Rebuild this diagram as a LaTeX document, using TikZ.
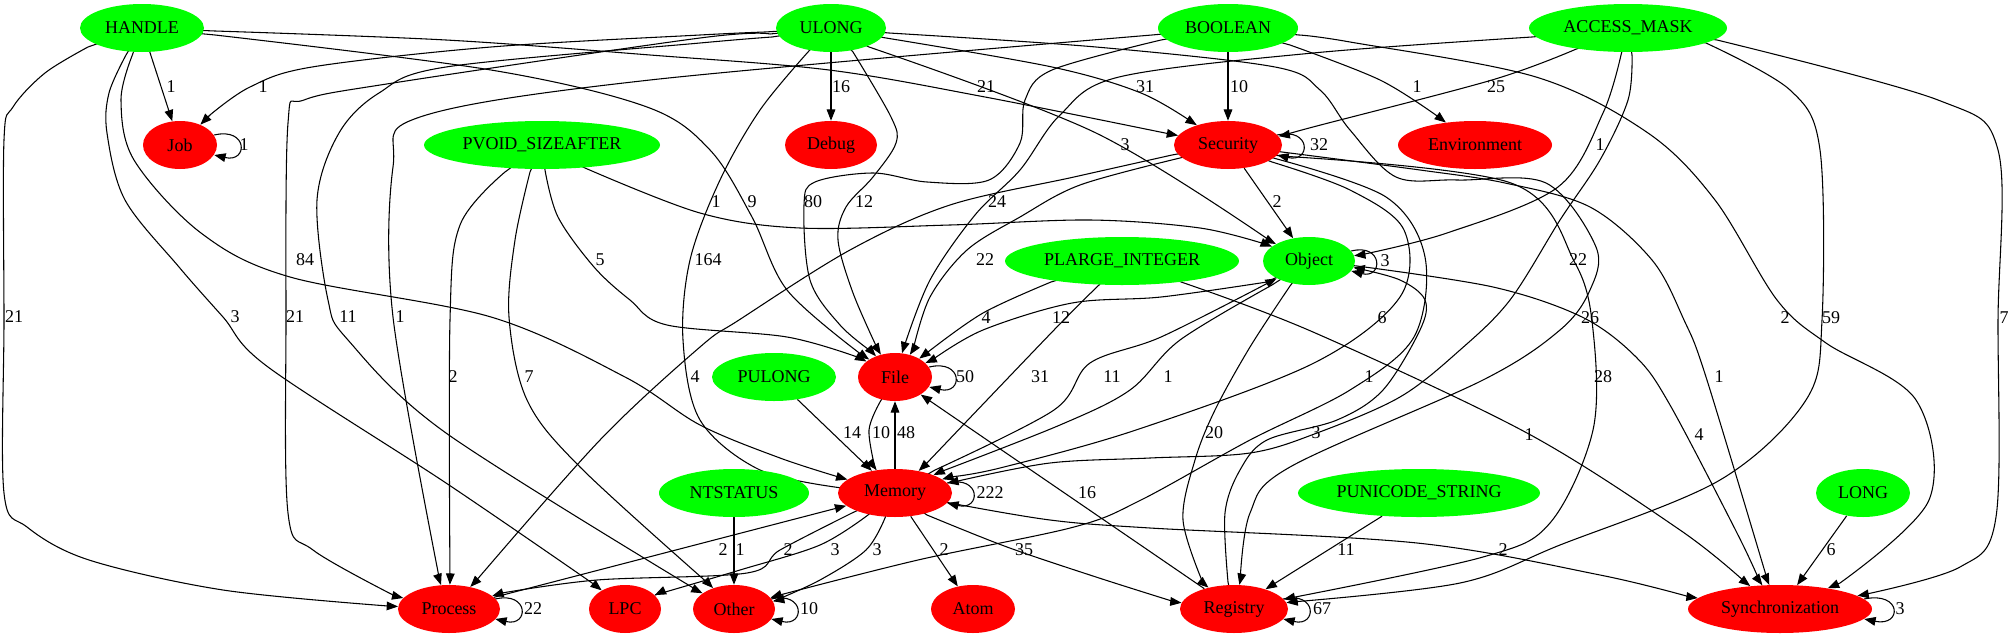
\documentclass[tikz,border=0pt]{standalone}
\usepackage{fontspec}
\setmainfont{Liberation Serif}
\usetikzlibrary{arrows.meta,shapes.geometric,calc}
\pgfdeclarelayer{bg}
\pgfsetlayers{bg,main}
\definecolor{gvgreen}{RGB}{0,255,0}
\definecolor{gvred}{RGB}{255,0,0}
\begin{document}
\begin{tikzpicture}[x=0.75pt,y=-0.75pt,
  gv/.style={ellipse, draw=none, inner sep=0pt, minimum height=36pt, font=\fontsize{13.5}{16}\selectfont},
  gn/.style={gv, fill=gvgreen},
  rn/.style={gv, fill=gvred},
  wd/.style={minimum width=#1*0.75pt},
  e/.style={draw=black, line width=0.8pt, -{Triangle[length=8.5pt,width=6.5pt]}},
  lb/.style={font=\fontsize{13.5}{16}\selectfont, inner sep=0pt},
  sm/.style={smooth, tension=0.55}]
\useasboundingbox (0,0) rectangle (2013,639);
% nodes
\node[gn,wd=124] (HANDLE) at (142,28) {HANDLE};
\node[gn,wd=110] (ULONG) at (831,28) {ULONG};
\node[gn,wd=140] (BOOLEAN) at (1228,28) {BOOLEAN};
\node[gn,wd=198] (ACCESS) at (1628,28) {ACCESS\_MASK};
\node[rn,wd=74] (Job) at (180,145) {Job};
\node[gn,wd=236] (PVOID) at (542,145) {PVOID\_SIZEAFTER};
\node[rn,wd=92] (Debug) at (831,145) {Debug};
\node[rn,wd=108] (Security) at (1228,145) {Security};
\node[rn,wd=154] (Environment) at (1475,145) {Environment};
\node[gn,wd=234] (PLARGE) at (1122,261) {PLARGE\_INTEGER};
\node[gn,wd=92] (Object) at (1309,261) {Object};
\node[gn,wd=124] (PULONG) at (774,377) {PULONG};
\node[rn,wd=74] (File) at (895,377) {File};
\node[gn,wd=150] (NTSTATUS) at (734,493) {NTSTATUS};
\node[rn,wd=114] (Memory) at (895,493) {Memory};
\node[gn,wd=242] (PUNICODE) at (1419,493) {PUNICODE\_STRING};
\node[gn,wd=94] (LONG) at (1863,493) {LONG};
\node[rn,wd=102] (Process) at (449,609) {Process};
\node[rn,wd=72] (LPC) at (625,609) {LPC};
\node[rn,wd=82] (Other) at (734,609) {Other};
\node[rn,wd=84] (Atom) at (973,609) {Atom};
\node[rn,wd=108] (Registry) at (1234,609) {Registry};
\node[rn,wd=184] (Sync) at (1780,609) {Synchronization};

\begin{pgfonlayer}{bg}
% HANDLE
\draw[e] (HANDLE) -- (Job);
\draw[e] (HANDLE) -- plot[sm] coordinates {(215,31) (446,40) (650,55) (829,70) (985,97) (1165,133)} -- (Security);
\draw[e] (HANDLE) -- plot[sm] coordinates {(215,35) (491,70) (647,107) (710,150) (752,217) (787,290) (858,352)} -- (File);
\draw[e] (HANDLE) -- plot[sm] coordinates {(132,56) (121,100) (134,160) (201,233) (290,277) (491,317) (625,377) (700,425) (780,458) (842,478)} -- (Memory);
\draw[e] (HANDLE) -- plot[sm] coordinates {(88,47) (45,73) (13,107) (4,140) (4,320) (4,493) (27,527) (89,560) (223,590) (388,606)} -- (Process);
\draw[e] (HANDLE) -- plot[sm] coordinates {(126,55) (109,93) (107,133) (125,200) (179,267) (223,317) (268,367) (446,483) (595,585)} -- (LPC);
% ULONG
\draw[e] (ULONG) -- plot[sm] coordinates {(765,32) (700,35) (491,47) (312,67) (250,87) (210,115)} -- (Job);
\draw[e] (ULONG) -- (Debug);
\draw[e] (ULONG) -- plot[sm] coordinates {(886,38) (1052,67) (1141,93) (1195,124)} -- (Security);
\draw[e] (ULONG) -- plot[sm] coordinates {(869,47) (1096,133) (1272,242)} -- (Object);
\draw[e] (ULONG) -- plot[sm] coordinates {(853,52) (891,117) (896,143) (873,177) (846,207) (838,240) (853,293) (878,350)} -- (File);
\draw[e] (ULONG) -- plot[sm] coordinates {(808,52) (760,110) (720,180) (690,260) (683,340) (700,420) (760,470) (842,488)} -- (Memory);
\draw[e] (ULONG) -- plot[sm] coordinates {(770,34) (700,38) (393,83) (304,100) (288,123) (286,320) (288,513) (313,550) (395,596)} -- (Process);
\draw[e] (ULONG) -- plot[sm] coordinates {(772,37) (700,43) (446,67) (379,93) (339,133) (317,200) (328,300) (348,340) (446,433) (700,592)} -- (Other);
\draw[e] (ULONG) -- plot[sm] coordinates {(889,33) (1096,47) (1275,67) (1320,90) (1350,130) (1396,177) (1457,180) (1546,183) (1596,247) (1590,290) (1560,330) (1483,380) (1290,467) (1250,513) (1240,582)} -- (Registry);
% BOOLEAN
\draw[e] (BOOLEAN) -- (Security);
\draw[e] (BOOLEAN) -- plot[sm] coordinates {(1290,45) (1380,80) (1440,118)} -- (Environment);
\draw[e] (BOOLEAN) -- plot[sm] coordinates {(1161,40) (1052,70) (1025,100) (1020,143) (989,180) (927,182) (873,173) (815,182) (804,205) (810,280) (840,325) (872,352)} -- (File);
\draw[e] (BOOLEAN) -- plot[sm] coordinates {(1152,35) (650,80) (420,117) (393,167) (393,317) (440,582)} -- (Process);
\draw[e] (BOOLEAN) -- plot[sm] coordinates {(1299,35) (1350,42) (1536,77) (1648,133) (1715,200) (1777,300) (1826,343) (1916,400) (1929,500) (1840,583)} -- (Sync);
% ACCESS_MASK
\draw[e] (ACCESS) -- plot[sm] coordinates {(1574,50) (1492,80) (1313,127) (1285,135)} -- (Security);
\draw[e] (ACCESS) -- plot[sm] coordinates {(1621,55) (1603,113) (1558,187) (1447,233) (1360,255)} -- (Object);
\draw[e] (ACCESS) -- plot[sm] coordinates {(1532,37) (1313,53) (1119,77) (1060,115) (1020,170) (975,215) (930,280) (903,350)} -- (File);
\draw[e] (ACCESS) -- plot[sm] coordinates {(1632,55) (1628,100) (1600,160) (1560,220) (1510,300) (1460,350) (1400,397) (1317,433) (1250,453) (1150,458) (1050,463) (958,481)} -- (Memory);
\draw[e] (ACCESS) -- plot[sm] coordinates {(1706,43) (1790,90) (1820,150) (1822,320) (1806,400) (1720,480) (1560,545) (1460,583) (1292,602)} -- (Registry);
\draw[e] (ACCESS) -- plot[sm] coordinates {(1717,40) (1938,100) (1998,150) (1998,320) (1996,517) (1960,567) (1862,595)} -- (Sync);
% PVOID
\draw[e] (PVOID) -- plot[sm] coordinates {(585,168) (700,213) (800,228) (950,225) (1090,220) (1200,228) (1268,245)} -- (Object);
\draw[e] (PVOID) -- plot[sm] coordinates {(545,170) (558,217) (594,267) (630,300) (667,325) (787,337) (860,358)} -- (File);
\draw[e] (PVOID) -- plot[sm] coordinates {(505,172) (460,225) (450,320) (450,582)} -- (Process);
\draw[e] (PVOID) -- plot[sm] coordinates {(530,172) (515,240) (509,317) (527,400) (580,467) (710,585)} -- (Other);
% Security
\draw[e] (Security) -- (Object);
\draw[e] (Security) -- plot[sm] coordinates {(1180,158) (1080,185) (1020,217) (967,250) (930,297) (913,350)} -- (File);
\draw[e] (Security) -- plot[sm] coordinates {(1172,155) (1074,177) (950,205) (850,250) (739,320) (700,347) (600,440) (475,582)} -- (Process);
\draw[e] (Security) -- plot[sm] coordinates {(1272,162) (1350,190) (1404,230) (1400,297) (1314,363) (1136,430) (1000,468) (950,477)} -- (Memory);
\draw[e] (Security) -- plot[sm] coordinates {(1277,159) (1386,197) (1425,257) (1414,337) (1350,390) (1250,440) (1141,500) (1074,527) (918,560) (776,596)} -- (Other);
\draw[e] (Security) -- plot[sm] coordinates {(1280,156) (1511,183) (1575,263) (1593,330) (1593,430) (1550,523) (1483,557) (1290,598)} -- (Registry);
\draw[e] (Security) -- plot[sm] coordinates {(1282,152) (1420,170) (1505,183) (1590,207) (1652,260) (1684,320) (1706,377) (1768,582)} -- (Sync);
% PLARGE
\draw[e] (PLARGE) -- plot[sm] coordinates {(1051,282) (983,313) (928,352)} -- (File);
\draw[e] (PLARGE) -- plot[sm] coordinates {(1099,285) (1054,330) (925,465)} -- (Memory);
\draw[e] (PLARGE) -- plot[sm] coordinates {(1184,283) (1313,332) (1527,433) (1680,530) (1745,582)} -- (Sync);
% Object
\draw[e] (Object) -- plot[sm] coordinates {(1267,282) (1161,297) (1072,303) (983,330) (932,360)} -- (File);
\draw[e] (Memory) -- plot[sm] coordinates {(935,470) (1054,410) (1090,363) (1161,337) (1268,283)} -- (Object);
\draw[e] (Object) -- plot[sm] coordinates {(1272,285) (1180,340) (1130,390) (1060,425) (940,472)} -- (Memory);
\draw[e] (Object) -- plot[sm] coordinates {(1290,286) (1250,347) (1215,410) (1195,460) (1183,520) (1203,583)} -- (Registry);
\draw[e] (Registry) -- plot[sm] coordinates {(1228,582) (1225,513) (1240,470) (1267,440) (1337,420) (1383,390) (1420,330) (1425,300) (1400,280) (1356,268)} -- (Object);
\draw[e] (Object) -- plot[sm] coordinates {(1357,266) (1493,287) (1582,317) (1636,357) (1670,405) (1737,533) (1760,582)} -- (Sync);
% rank 3/4
\draw[e] (PULONG) -- (Memory);
\draw[e] (File) -- plot[sm] coordinates {(880,402) (869,430) (875,468)} -- (Memory);
\draw[e] (Memory) -- (File);
\draw[e] (Registry) -- (File);
\draw[e] (Process) -- (Memory);
\draw[e] (Memory) -- plot[sm] coordinates {(852,513) (780,550) (747,573) (597,580) (502,593)} -- (Process);
\draw[e] (NTSTATUS) -- (Other);
\draw[e] (Memory) -- plot[sm] coordinates {(868,515) (820,545) (740,570) (655,595)} -- (LPC);
\draw[e] (Memory) -- plot[sm] coordinates {(885,518) (866,550) (820,580) (774,601)} -- (Other);
\draw[e] (Memory) -- (Atom);
\draw[e] (Memory) -- plot[sm] coordinates {(927,515) (1007,547) (1096,577) (1175,602)} -- (Registry);
\draw[e] (Memory) -- plot[sm] coordinates {(950,503) (1050,520) (1150,528) (1417,543) (1600,575) (1690,597)} -- (Sync);
\draw[e] (PUNICODE) -- (Registry);
\draw[e] (LONG) -- (Sync);
% self loops
\draw[e] ($(Job.east)+(-3,-10)$) .. controls +(34,-8) and +(34,8) .. ($(Job.east)+(-3,10)$);
\draw[e] ($(Security.east)+(-5,-10)$) .. controls +(34,-8) and +(34,8) .. ($(Security.east)+(-5,10)$);
\draw[e] ($(Object.east)+(-4,-10)$) .. controls +(32,-8) and +(32,8) .. ($(Object.east)+(-4,10)$);
\draw[e] ($(File.east)+(-3,-10)$) .. controls +(34,-8) and +(34,8) .. ($(File.east)+(-3,10)$);
\draw[e] ($(Memory.east)+(-5,-10)$) .. controls +(34,-8) and +(34,8) .. ($(Memory.east)+(-5,10)$);
\draw[e] ($(Process.east)+(-5,-10)$) .. controls +(34,-8) and +(34,8) .. ($(Process.east)+(-5,10)$);
\draw[e] ($(Other.east)+(-4,-10)$) .. controls +(34,-8) and +(34,8) .. ($(Other.east)+(-4,10)$);
\draw[e] ($(Registry.east)+(-5,-10)$) .. controls +(34,-8) and +(34,8) .. ($(Registry.east)+(-5,10)$);
\draw[e] ($(Sync.east)+(-8,-10)$) .. controls +(38,-8) and +(38,8) .. ($(Sync.east)+(-8,10)$);
\end{pgfonlayer}

% labels
\node[lb] (t1) at (171,87) {1};
\node[lb] (t2) at (263,87) {1};
\node[lb] (t3) at (841,87) {16};
\node[lb] (t4) at (986,87) {21};
\node[lb] (t5) at (1145,87) {31};
\node[lb] (t6) at (1239,87) {10};
\node[lb] (t7) at (1417,87) {1};
\node[lb] (t8) at (1496,87) {25};
\node[lb] (t9) at (244,145) {1};
\node[lb] (t10) at (1125,145) {3};
\node[lb] (t11) at (1319,145) {32};
\node[lb] (t12) at (1600,145) {1};
\node[lb] (t13) at (716,202) {1};
\node[lb] (t14) at (752,202) {9};
\node[lb] (t15) at (813,202) {80};
\node[lb] (t16) at (864,202) {12};
\node[lb] (t17) at (997,202) {24};
\node[lb] (t18) at (1277,202) {2};
\node[lb] (t19) at (305,260) {84};
\node[lb] (t20) at (600,260) {5};
\node[lb] (t21) at (708,260) {164};
\node[lb] (t22) at (985,260) {22};
\node[lb] (t23) at (1385,261) {3};
\node[lb] (t24) at (1578,260) {22};
\node[lb] (t25) at (14,317) {21};
\node[lb] (t26) at (235,317) {3};
\node[lb] (t27) at (295,317) {21};
\node[lb] (t28) at (348,317) {11};
\node[lb] (t29) at (400,317) {1};
\node[lb] (t30) at (986,318) {4};
\node[lb] (t31) at (1061,318) {12};
\node[lb] (t32) at (1382,318) {6};
\node[lb] (t33) at (1590,318) {26};
\node[lb] (t34) at (1785,318) {2};
\node[lb] (t35) at (1831,318) {59};
\node[lb] (t36) at (2004,318) {7};
\node[lb] (t37) at (453,377) {2};
\node[lb] (t38) at (529,377) {7};
\node[lb] (t39) at (695,377) {4};
\node[lb] (t40) at (965,377) {50};
\node[lb] (t41) at (1040,377) {31};
\node[lb] (t42) at (1112,377) {11};
\node[lb] (t43) at (1168,377) {1};
\node[lb] (t44) at (1369,377) {1};
\node[lb] (t45) at (1603,377) {28};
\node[lb] (t46) at (1719,377) {1};
\node[lb] (t47) at (852,433) {14};
\node[lb] (t48) at (881,433) {10};
\node[lb] (t49) at (906,433) {48};
\node[lb] (t50) at (1214,433) {20};
\node[lb] (t51) at (1316,433) {3};
\node[lb] (t52) at (1529,435) {1};
\node[lb] (t53) at (1699,435) {4};
\node[lb] (t54) at (990,493) {222};
\node[lb] (t55) at (1087,493) {16};
\node[lb] (t56) at (723,550) {2};
\node[lb] (t57) at (740,550) {1};
\node[lb] (t58) at (788,550) {2};
\node[lb] (t59) at (835,550) {3};
\node[lb] (t60) at (877,550) {3};
\node[lb] (t61) at (944,550) {2};
\node[lb] (t62) at (1024,550) {35};
\node[lb] (t63) at (1346,550) {11};
\node[lb] (t64) at (1503,550) {2};
\node[lb] (t65) at (1831,550) {6};
\node[lb] (t66) at (533,609) {22};
\node[lb] (t67) at (809,609) {10};
\node[lb] (t68) at (1322,609) {67};
\node[lb] (t69) at (1900,609) {3};
\end{tikzpicture}
\end{document}
